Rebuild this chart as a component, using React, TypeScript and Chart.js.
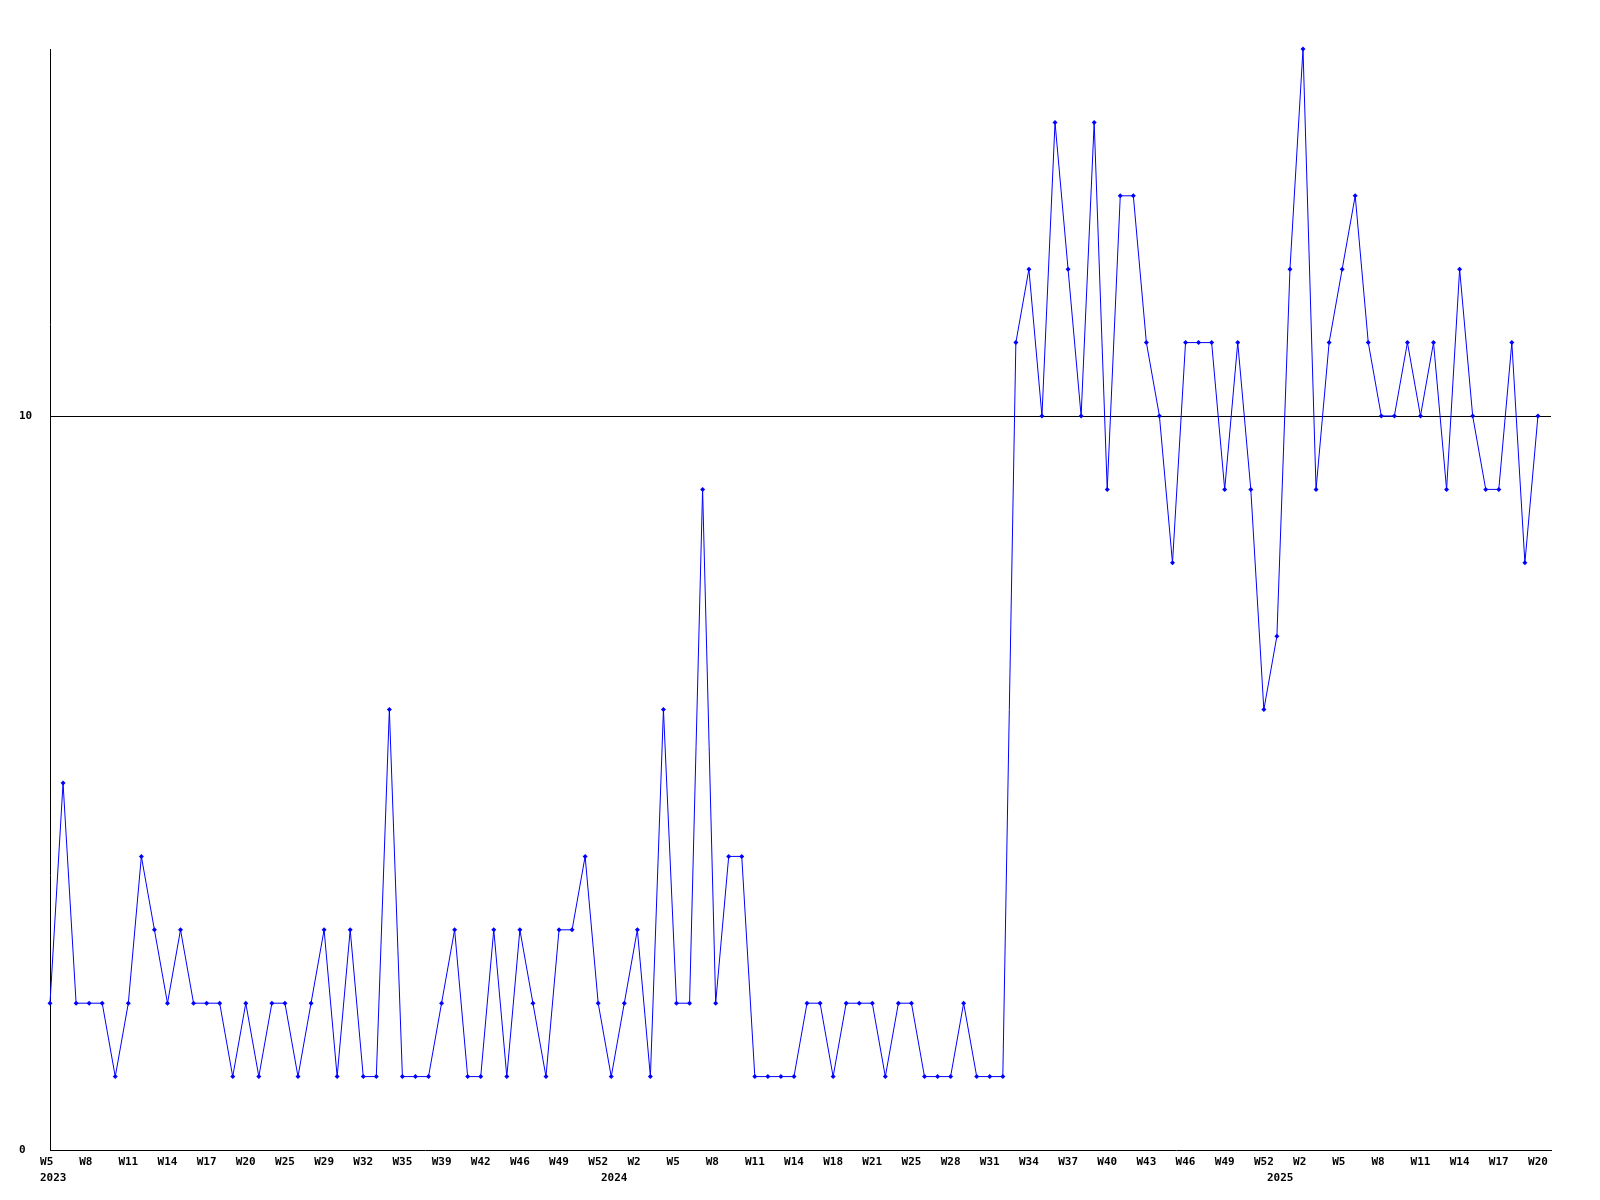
import React, { useEffect, useRef } from "react";
import { Chart, registerables } from "chart.js";

Chart.register(...registerables);

// Week categories per year (data has some missing weeks)
const weeks2023 = [
  "W5", "W6", "W7", "W8", "W9", "W10", "W11", "W12", "W13", "W14", "W15", "W16", "W17", "W18", "W19", "W20",
  "W21", "W23", "W25", "W26", "W27", "W29", "W30", "W31", "W32", "W33", "W34", "W35", "W36", "W37",
  "W39", "W40", "W41", "W42", "W43", "W44", "W46", "W47", "W48", "W49", "W50", "W51", "W52",
];
const weeks2024 = [
  "W0", "W1", "W2", "W3", "W4", "W5", "W6", "W7", "W8", "W9", "W10", "W11", "W12", "W13", "W14", "W15", "W16",
  "W18", "W19", "W20", "W21", "W22", "W23", "W25", "W26", "W27", "W28", "W29", "W30", "W31", "W32", "W33",
  "W34", "W35", "W36", "W37", "W38", "W39", "W40", "W41", "W42", "W43", "W44", "W45", "W46", "W47", "W48",
  "W49", "W50", "W51", "W52",
];
const weeks2025 = [
  "W0", "W1", "W2", "W3", "W4", "W5", "W6", "W7", "W8", "W9", "W10", "W11", "W12", "W13", "W14", "W15", "W16",
  "W17", "W18", "W19", "W20",
];
const yearNames = ["2023", "2024", "2025"];

// Series values
const values2023 = [
  2, 5, 2, 2, 2, 1, 2, 4, 3, 2, 3, 2, 2, 2, 1, 2, 1, 2, 2, 1, 2, 3, 1, 3, 1, 1, 6, 1, 1, 1,
  2, 3, 1, 1, 3, 1, 3, 2, 1, 3, 3, 4, 2,
];
const values2024 = [
  1, 2, 3, 1, 6, 2, 2, 9, 2, 4, 4, 1, 1, 1, 1, 2, 2, 1, 2, 2, 2, 1, 2, 2, 1, 1, 1, 2, 1, 1,
  1, 11, 12, 10, 14, 12, 10, 14, 9, 13, 13, 11, 10, 8, 11, 11, 11, 9, 11, 9, 6,
];
const values2025 = [7, 12, 15, 9, 11, 12, 13, 11, 10, 10, 11, 10, 11, 9, 12, 10, 9, 9, 11, 8, 10];

const yTickValues = [0, 10];
const Y_MIN = 0;
const Y_MAX = 15;
const LABEL_EVERY = 3;

const weekLabels = [...weeks2023, ...weeks2024, ...weeks2025];
const values = [...values2023, ...values2024, ...values2025];
const yearStartIndex = [0, weeks2023.length, weeks2023.length + weeks2024.length];

const FONT = { family: "'DejaVu Sans Mono', monospace", size: 11, weight: "bold" as const };

export default function App() {
  const canvasRef = useRef<HTMLCanvasElement | null>(null);

  useEffect(() => {
    const canvas = canvasRef.current;
    if (!canvas) return;

    const yearPlugin = {
      id: "yearLabels",
      afterDraw(chart: any) {
        const ctx = chart.ctx;
        const xs = chart.scales.x;
        ctx.save();
        ctx.font = `bold ${FONT.size}px ${FONT.family}`;
        ctx.fillStyle = "#000";
        ctx.textAlign = "left";
        ctx.textBaseline = "middle";
        const half = ctx.measureText("000").width / 2;
        yearNames.forEach((name, k) => {
          const x = xs.getPixelForValue(yearStartIndex[k]);
          ctx.fillText(name, Math.round(x - half), 1178);
        });
        ctx.restore();
      },
    };

    const chart = new Chart(canvas, {
      type: "line",
      data: {
        datasets: [
          {
            data: values.map((v, i) => ({ x: i, y: v })),
            borderColor: "#0000ff",
            backgroundColor: "#0000ff",
            borderWidth: 1,
            tension: 0,
            clip: false,
            pointStyle: "rectRot",
            pointRadius: 2.5,
            pointBorderWidth: 0,
            pointBackgroundColor: "#0000ff",
          },
        ],
      },
      options: {
        animation: false,
        responsive: false,
        events: [],
        layout: { padding: { left: 19, top: 49, right: 49, bottom: 0 } },
        plugins: {
          legend: { display: false },
          tooltip: { enabled: false },
        },
        scales: {
          x: {
            type: "linear",
            min: 0,
            max: values.length,
            afterBuildTicks: (scale: any) => {
              const t: any[] = [];
              for (let i = 0; i < values.length; i += LABEL_EVERY) t.push({ value: i });
              scale.ticks = t;
            },
            afterFit: (scale: any) => {
              scale.height = 50;
            },
            ticks: {
              autoSkip: false,
              maxRotation: 0,
              minRotation: 0,
              padding: 6,
              color: "#000",
              font: FONT,
              callback: (value: any) => (weekLabels[value] ?? "").padEnd(3, " "),
            },
            grid: { display: false, drawTicks: false },
            border: { display: true, color: "#000", width: 1 },
          },
          y: {
            min: Y_MIN,
            max: Y_MAX,
            afterBuildTicks: (scale: any) => {
              scale.ticks = yTickValues.map((v) => ({ value: v }));
            },
            afterFit: (scale: any) => {
              scale.width = 31;
            },
            ticks: {
              crossAlign: "far",
              padding: 0,
              color: "#000",
              font: FONT,
              callback: (value: any) => String(value),
            },
            grid: {
              drawTicks: false,
              color: (ctx: any) => (ctx.tick && ctx.tick.value === 10 ? "#000" : "rgba(0,0,0,0)"),
              lineWidth: 1,
            },
            border: { display: true, color: "#000", width: 1 },
          },
        },
      },
      plugins: [yearPlugin],
    });

    return () => chart.destroy();
  }, []);

  return (
    <div style={{ position: "absolute", left: 0, top: 0, width: 1600, height: 1200, background: "#fff" }}>
      <canvas ref={canvasRef} width={1600} height={1200} style={{ display: "block" }} />
    </div>
  );
}
